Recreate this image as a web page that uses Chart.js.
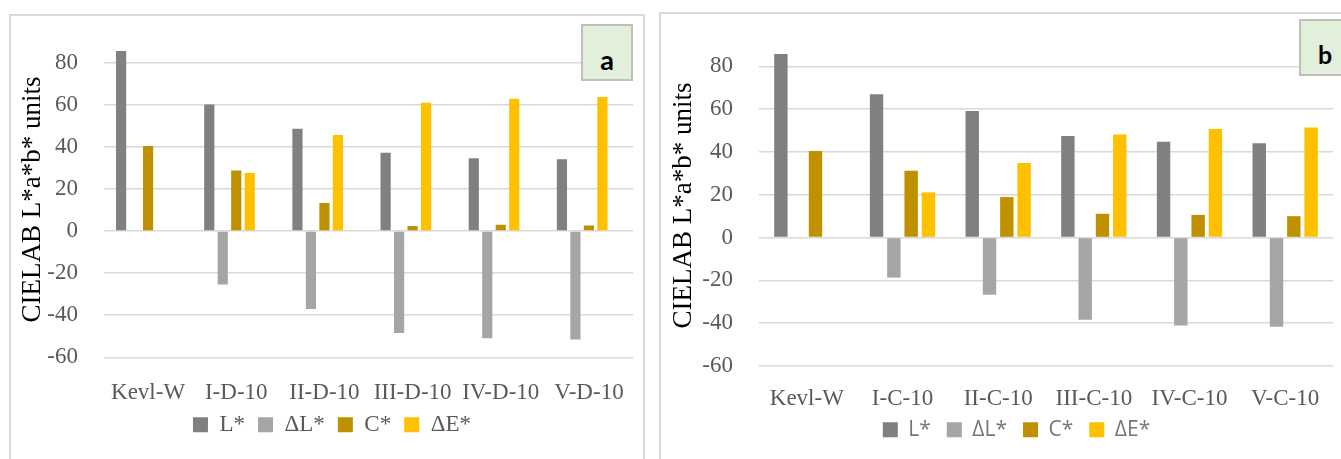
<!DOCTYPE html>
<html>
<head>
<meta charset="utf-8">
<script src="https://cdn.jsdelivr.net/npm/chart.js@4.4.1/dist/chart.umd.min.js"></script>
<style>
  html, body { margin: 0; padding: 0; background: #fff; }
  body { position: relative; width: 1341px; height: 459px; overflow: hidden; }
  canvas { position: absolute; }
  #chartA { left: 10px; top: 15px; }
  #chartB { left: 661px; top: 14px; }
  .frame { position: absolute; border: 2px solid #d9d9d9; box-sizing: border-box; pointer-events: none; }
  #frameA { left: 9px; top: 14px; width: 636px; height: 480px; }
  #frameB { left: 659px; top: 12px; width: 720px; height: 480px; }
  .tag {
    position: absolute; box-sizing: border-box;
    background: #e2efda; border: 2px solid #bfbfbf;
    font-family: Lato, "Open Sans", sans-serif; font-weight: 700; color: #000;
    display: flex; justify-content: center; align-items: center;
  }
  #tagA { left: 581px; top: 24px; width: 52px; height: 57px; font-size: 27px; padding-top: 14px; }
  #tagB { left: 1299px; top: 19px; width: 52px; height: 57px; font-size: 25px; padding-top: 12px; }
</style>
</head>
<body>
<canvas id="chartA" width="634" height="444"></canvas>
<canvas id="chartB" width="680" height="460"></canvas>
<div class="frame" id="frameA"></div>
<div class="frame" id="frameB"></div>
<div class="tag" id="tagA">a</div>
<div class="tag" id="tagB">b</div>
<script>
// Panel a: D-10 samples
const categoriesA = ['Kevl-W', 'I-D-10', 'II-D-10', 'III-D-10', 'IV-D-10', 'V-D-10'];
const lightnessA = [85.6, 60.2, 48.6, 37.2, 34.6, 34.1];
const deltaLA    = [null, -25.4, -37.0, -48.4, -51.0, -51.5];
const chromaA    = [40.4, 28.8, 13.3, 2.4, 3.0, 2.7];
const deltaEA    = [null, 27.6, 45.6, 61.0, 62.9, 63.7];

// Panel b: C-10 samples
const categoriesB = ['Kevl-W', 'I-C-10', 'II-C-10', 'III-C-10', 'IV-C-10', 'V-C-10'];
const lightnessB = [85.7, 67.0, 59.1, 47.4, 44.7, 44.1];
const deltaLB    = [null, -18.7, -26.7, -38.4, -41.1, -41.7];
const chromaB    = [40.4, 31.2, 18.9, 11.1, 10.6, 10.0];
const deltaEB    = [null, 21.1, 34.8, 48.2, 50.7, 51.4];

const seriesNames  = ['L*', 'ΔL*', 'C*', 'ΔE*'];
const seriesColors = ['#808080', '#a5a5a5', '#bf9000', '#ffc000'];
const tickValues   = [-60, -40, -20, 0, 20, 40, 60, 80];
const axisTitle    = 'CIELAB L*a*b* units';

Chart.defaults.animation = false;

function buildChart(canvasId, cfg) {
  const datasets = cfg.series.map((data, i) => ({
    label: seriesNames[i],
    data: data,
    backgroundColor: seriesColors[i],
    borderWidth: 0,
    categoryPercentage: cfg.catPct,
    barPercentage: cfg.barPct
  }));
  // an unlabelled, empty series keeps a fifth slot free in every group
  if (cfg.emptySlot) {
    datasets.push({
      label: '',
      data: cfg.categories.map(() => null),
      backgroundColor: 'rgba(0,0,0,0)',
      borderWidth: 0,
      categoryPercentage: cfg.catPct,
      barPercentage: cfg.barPct
    });
  }
  // lift the legend so it sits closer to the category labels
  const legendLift = {
    id: 'legendLift',
    afterLayout(chart) {
      if (chart.legend) {
        chart.legend.top += cfg.legendShift;
        chart.legend.bottom += cfg.legendShift;
      }
    }
  };
  const serif = 'Liberation Serif, "Times New Roman", serif';
  return new Chart(document.getElementById(canvasId), {
    type: 'bar',
    data: { labels: cfg.categories, datasets: datasets },
    plugins: [legendLift],
    options: {
      responsive: false,
      devicePixelRatio: 1,
      animation: false,
      layout: { padding: cfg.padding },
      plugins: {
        tooltip: { enabled: false },
        legend: {
          position: 'bottom',
          labels: {
            boxWidth: 15,
            boxHeight: 15,
            padding: cfg.legendPad,
            color: cfg.legendColor,
            font: cfg.legendFont,
            filter: item => item.text !== ''
          }
        }
      },
      scales: {
        x: {
          grid: { display: false, drawTicks: false },
          border: { display: false },
          ticks: {
            autoSkip: false,
            maxRotation: 0,
            padding: cfg.xPad,
            color: '#595959',
            font: { family: serif, size: 23 }
          },
          afterFit: s => {
            s.height = cfg.xHeight;
            s.paddingLeft = 0;
            s.paddingRight = 0;
          }
        },
        y: {
          min: -60,
          max: 90,
          grid: { color: '#d9d9d9', lineWidth: 1.5, drawTicks: false },
          border: { display: false },
          ticks: {
            includeBounds: false,
            padding: 26,
            color: '#595959',
            font: { family: serif, size: 23 }
          },
          afterBuildTicks: s => { s.ticks = tickValues.map(v => ({ value: v })); },
          title: {
            display: true,
            text: axisTitle,
            color: '#000',
            font: { family: serif, size: 27 },
            padding: { top: cfg.titleOffset, bottom: 0 }
          },
          afterFit: s => {
            s.width = cfg.yWidth;
            s.paddingTop = 0;
            s.paddingBottom = 0;
          }
        }
      }
    }
  });
}

buildChart('chartA', {
  categories: categoriesA,
  series: [lightnessA, deltaLA, chromaA, deltaEA],
  emptySlot: true,
  catPct: 0.765,
  barPct: 0.755,
  padding: { left: 21, right: 11, top: 26.7, bottom: 5.7 },
  yWidth: 73,
  xHeight: 50,
  xPad: 22,
  titleOffset: -14.6,
  legendPad: 13,
  legendShift: -7,
  legendColor: '#595959',
  legendFont: { family: 'Liberation Serif, serif', size: 23 }
});

buildChart('chartB', {
  categories: categoriesB,
  series: [lightnessB, deltaLB, chromaB, deltaEB],
  emptySlot: false,
  catPct: 0.723,
  barPct: 0.775,
  padding: { left: 39, right: 8, top: 30.9, bottom: 11 },
  yWidth: 59,
  xHeight: 50,
  xPad: 19,
  titleOffset: -32.6,
  legendPad: 16,
  legendShift: -12.7,
  legendColor: '#767676',
  legendFont: { family: '"Open Sans", sans-serif', size: 21 }
});
</script>
</body>
</html>
